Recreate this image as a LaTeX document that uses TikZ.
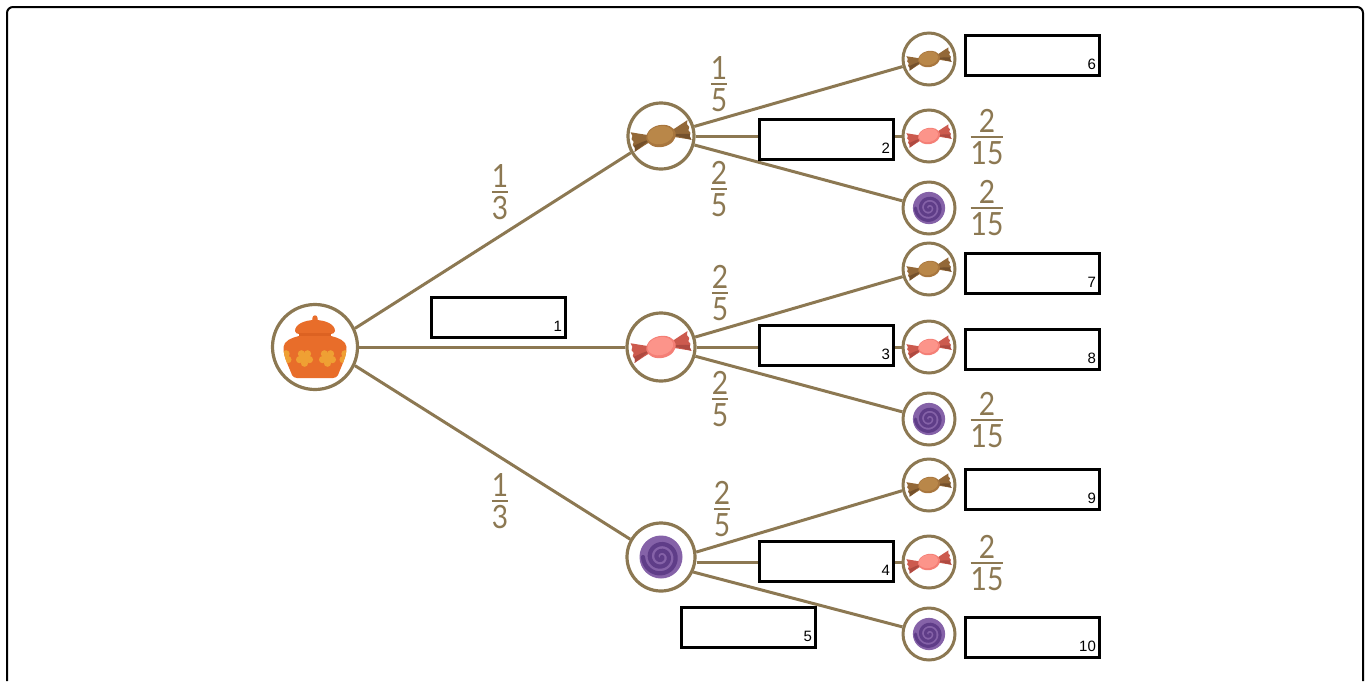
\documentclass[tikz,border=0pt]{standalone}
\usepackage{fontspec}
\setmainfont{Liberation Sans}
\newfontfamily\fracfont[FakeStretch=0.88]{Lato}
\definecolor{tan}{HTML}{8C7852}
\definecolor{cbrown}{HTML}{A8763E}
\definecolor{cbrownl}{HTML}{B98749}
\definecolor{wbrown}{HTML}{936838}
\definecolor{dbrown}{HTML}{74502B}
\definecolor{cpink}{HTML}{F47F76}
\definecolor{cpinkl}{HTML}{FC948A}
\definecolor{wpink}{HTML}{CC5A4E}
\definecolor{dpink}{HTML}{AE4A41}
\definecolor{purp}{HTML}{5F3D88}
\definecolor{purpl}{HTML}{8562A8}
\definecolor{jar}{HTML}{E86D2A}
\definecolor{jard}{HTML}{DC6222}
\definecolor{flow}{HTML}{EFA033}
\tikzset{
  x=1pt,y=-1pt,
  frameline/.style={draw=black,line width=2pt,rounded corners=6pt},
  edge/.style={draw=tan,line width=3pt},
  bigc/.style={circle,draw=tan,line width=3.2pt,fill=white,inner sep=0pt,minimum size=66pt},
  rootc/.style={circle,draw=tan,line width=3.2pt,fill=white,inner sep=0pt,minimum size=85pt},
  leafc/.style={circle,draw=tan,line width=3pt,fill=white,inner sep=0pt,minimum size=52pt},
  ansbox/.style={draw=black,line width=3.2pt,fill=white,inner sep=0pt,minimum width=134pt,minimum height=40pt},
  anstext/.style={anchor=south east,inner sep=0pt,font=\fontsize{15}{15}\selectfont,text=black,xshift=-5pt,yshift=7pt},
  fr/.style={text=tan,inner sep=0pt,font=\fontsize{32}{32}\fracfont},
}
\newcommand{\fr}[2]{\vbox{\offinterlineskip\halign{\hfil##\hfil\cr\hbox{#1}\cr\noalign{\kern3pt\hrule height 2.4pt\kern3pt}\hbox{#2}\cr}}}
% centre node, scale, body, body light, wing, wing dark
\newcommand{\candyat}[6]{%
\begin{scope}[shift={(#1)},scale=#2,rotate=12]
  \fill[#5] (-11,-3) -- (-29,-10) -- (-28,-6) -- (-29.5,-3) -- (-28,0) -- (-29.5,3) -- (-28,6) -- (-29,10) -- (-11,3) -- cycle;
  \fill[#6] (-11,1) -- (-29,10) -- (-28,6) -- (-29,4) -- (-20,2) -- cycle;
  \fill[#5] (11,-3) -- (29,-10) -- (28,-6) -- (29.5,-3) -- (28,0) -- (29.5,3) -- (28,6) -- (29,10) -- (11,3) -- cycle;
  \fill[#6] (11,1) -- (29,10) -- (28,6) -- (29,4) -- (20,2) -- cycle;
  \fill[#3] (0,0) ellipse [x radius=15, y radius=11];
  \fill[#4] (-0.5,-1) ellipse [x radius=13, y radius=9];
\end{scope}}
\newcommand{\lollyat}[2]{%
\begin{scope}[shift={(#1)},scale=#2]
  \fill[purpl] (0,0) circle [radius=21.5];
  \draw[purp,line width=4.2pt*#2,line cap=round,smooth,samples=80,domain=0:900]
    plot ({(1+\x/900*17)*cos(\x)},{(1+\x/900*17)*sin(\x)});
\end{scope}}
\begin{document}
\begin{tikzpicture}
\useasboundingbox (0,0) rectangle (1370,681);
\draw[frameline] (7,681) -- (7,7) -- (1363,7) -- (1363,681);

\node[rootc] (R) at (315,347) {};
\node[bigc] (A) at (661,136) {};
\node[bigc,minimum size=68pt] (B) at (661,347) {};
\node[bigc,minimum size=68pt] (C) at (661,557) {};
\node[leafc] (L1) at (929,59) {};
\node[leafc] (L2) at (929,136) {};
\node[leafc] (L3) at (929,208) {};
\node[leafc] (L4) at (929,269) {};
\node[leafc] (L5) at (929,347) {};
\node[leafc] (L6) at (929,419) {};
\node[leafc] (L7) at (929,485) {};
\node[leafc] (L8) at (929,562) {};
\node[leafc] (L9) at (929,634) {};

\draw[edge] (R.25) -- (A.209);
\draw[edge] (R) -- (B);
\draw[edge] (R.-25) -- (C.150);
\draw[edge] (A) -- (L1);
\draw[edge] (A) -- (L2);
\draw[edge] (A) -- (L3);
\draw[edge] (B) -- (L4);
\draw[edge] (B) -- (L5);
\draw[edge] (B) -- (L6);
\draw[edge] (C.8) -- (L7.192);
\draw[edge] (C.east |- L8) -- (L8);
\draw[edge] (C.-25) -- (L9.165);

% jar
\begin{scope}[shift={(R)}]
  \fill[jar] (-3.5,-25) .. controls (-2.5,-27) and (-2.6,-28) .. (-2.6,-29) .. controls (-2.6,-32.5) and (2.6,-32.5) .. (2.6,-29) .. controls (2.6,-28) and (2.5,-27) .. (3.5,-25) -- cycle;
  \fill[jar] (-20,-16) .. controls (-20,-23) and (-10,-27) .. (0,-27) .. controls (10,-27) and (20,-23) .. (20,-16) .. controls (20,-14) and (18,-13) .. (14,-13) -- (-14,-13) .. controls (-18,-13) and (-20,-14) .. (-20,-16) -- cycle;
  \fill[jard] (-16,-14) rectangle (16,-10);
  \path[fill=jar,save path=\jarbody] (-16,-11) -- (16,-11) .. controls (24,-9) and (31,-6) .. (31.5,0) .. controls (32,9) and (26,20) .. (23,28) .. controls (22,30) and (20,31) .. (18,31) -- (-18,31) .. controls (-20,31) and (-22,30) .. (-23,28) .. controls (-26,20) and (-32,9) .. (-31.5,0) .. controls (-31,-6) and (-24,-9) .. (-16,-11) -- cycle;
  \begin{scope}
    \clip[use path=\jarbody];
    \foreach \fx in {-32,-10.5,12.5,33} {
      \foreach \a in {90,162,234,306,18}
        \fill[flow] (\fx,11)+(\a:5.2) circle [radius=3.6];
      \fill[flow] (\fx,11) circle [radius=4];
    }
  \end{scope}
\end{scope}

\candyat{A}{1}{cbrown}{cbrownl}{wbrown}{dbrown}
\candyat{B}{1}{cpink}{cpinkl}{wpink}{dpink}
\lollyat{C}{1}
\candyat{L1}{.74}{cbrown}{cbrownl}{wbrown}{dbrown}
\candyat{L2}{.74}{cpink}{cpinkl}{wpink}{dpink}
\lollyat{L3}{.75}
\candyat{L4}{.74}{cbrown}{cbrownl}{wbrown}{dbrown}
\candyat{L5}{.74}{cpink}{cpinkl}{wpink}{dpink}
\lollyat{L6}{.75}
\candyat{L7}{.74}{cbrown}{cbrownl}{wbrown}{dbrown}
\candyat{L8}{.74}{cpink}{cpinkl}{wpink}{dpink}
\lollyat{L9}{.75}

\node[fr] (f1) at (500,192) {\fr{1}{3}};
\node[fr] (f2) at (500,501) {\fr{1}{3}};
\node[fr] (f3) at (719,84) {\fr{1}{5}};
\node[fr] (f4) at (719,189) {\fr{2}{5}};
\node[fr] (f5) at (720,293) {\fr{2}{5}};
\node[fr] (f6) at (720,399) {\fr{2}{5}};
\node[fr] (f7) at (722,509) {\fr{2}{5}};
\node[fr] (f8) at (987,137) {\fr{2}{15}};
\node[fr] (f9) at (987,208) {\fr{2}{15}};
\node[fr] (f10) at (987,420) {\fr{2}{15}};
\node[fr] (f11) at (987,563) {\fr{2}{15}};

\node[ansbox] (b1) at (498.5,317.5) {};
\node[anstext] (t1) at (b1.south east) {1};
\node[ansbox] (b2) at (826.5,139.5) {};
\node[anstext] (t2) at (b2.south east) {2};
\node[ansbox] (b3) at (826.5,345.5) {};
\node[anstext] (t3) at (b3.south east) {3};
\node[ansbox] (b4) at (826.5,561.5) {};
\node[anstext] (t4) at (b4.south east) {4};
\node[ansbox] (b5) at (748.5,627.5) {};
\node[anstext] (t5) at (b5.south east) {5};
\node[ansbox] (b6) at (1032.5,55.5) {};
\node[anstext] (t6) at (b6.south east) {6};
\node[ansbox] (b7) at (1032.5,273.5) {};
\node[anstext] (t7) at (b7.south east) {7};
\node[ansbox] (b8) at (1032.5,349.5) {};
\node[anstext] (t8) at (b8.south east) {8};
\node[ansbox] (b9) at (1032.5,489.5) {};
\node[anstext] (t9) at (b9.south east) {9};
\node[ansbox] (b10) at (1032.5,637.5) {};
\node[anstext] (t10) at (b10.south east) {10};
\end{tikzpicture}
\end{document}
